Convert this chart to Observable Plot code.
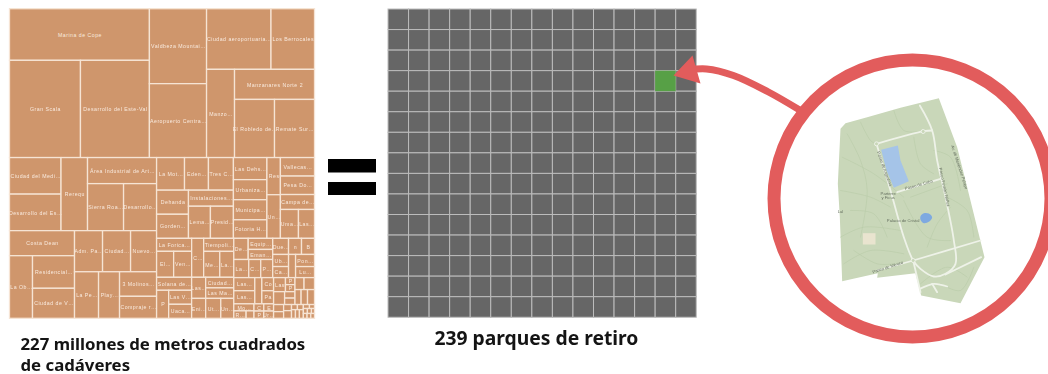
<!DOCTYPE html>
<html lang="es">
<head>
<meta charset="utf-8">
<script src="https://cdn.jsdelivr.net/npm/d3@7"></script>
<script src="https://cdn.jsdelivr.net/npm/@observablehq/plot@0.6"></script>
<style>
html,body{margin:0;padding:0;background:#fff;overflow:hidden}
svg{display:block;filter:blur(.5px)}
.tm-label text{letter-spacing:.5px}
</style>
</head>
<body>
<div id="chart"></div>
<script>
// Parcel names, as far as the picture lets them be read
const parcelNames = ["Marina de Cope","Gran Scala","Desarrollo del Este-Val","Valdbeza Mountai…","Aeropuerto Centra…","Ciudad aeroportuaria…","Los Berrocales","Manzo…","Manzanares Norte 2","El Robledo de…","Remate Sur…",
"Ciudad del Medi…","Desarrollo del Es…","Rerequ","Área Industrial de Art…","Sierra Roa…","Desarrollo…","Costa Dean","La Ob…","Residencial…","Ciudad de V…","Adm. Pa…","Ciudad…","Nuevo…","La Pe…","Play…","3 Molinos…","Compraje r…",
"La Mot…","Eden…","Tres C…","Dehanda","Gorden…","Instalaciones…","Lema…","Presid…","Las Dehs…","Urbaniza…","Municipa…","Fotoria H…","Res","Un…","Vallecas…","Pesa Do…","Campa de…","Uma…","Las…",
"La Forica…","El…","Ven…","C…","Tiempoli…","Me…","La…","Solana de…","P","Las V…","Uaca…","Las…","Eni…","Ciudad…","Las Ma…","Ut…","Un…",
"De…","Equip…","Eman…","La…","C…","P…","Due…","n","B","Ub…","Ca…","","Pon…","Lu…","Las…","Las…","","Co","Pa","Mo…","R…","","C","E","P","Ur…",
"Las","P","P","","","","","","","","","","","","","","","","","","","","","","","","",""];
// Parcel areas, thousands of square metres
const parcelAreas = [17300,16530,16060,10260,10120,9360,6320,5910,5760,5570,5570,
4510,4510,4640,4310,4060,3720,3900,3450,3280,3020,2760,2760,2560,2680,2340,2180,1950,
2180,1870,1950,1840,1840,1730,1690,1770,1770,1610,1610,1490,1200,1410,1510,1510,1220,1250,1110,
1090,1060,1120,1120,940,1000,870,1090,810,770,770,710,670,710,710,720,620,
730,650,590,650,520,520,610,500,500,460,420,390,550,500,660,660,440,370,370,340,220,140,170,170,170,170,
400,160,160,340,160,160,260,300,220,230,250,170,160,115,145,72,72,82,82,82,58,48,48,48,36,43,43,43];
// How the parcels nest: "h" groups sit side by side, "v" groups are stacked; numbers index the arrays above
const parcelNesting = ["v",
  ["h",["v",0,["h",1,2]],["v",3,4],["v",["h",5,6],["h",7,["v",8,["h",9,10]]]]],
  ["h",
    ["v",["h",["v",11,12],13,["v",14,["h",15,16]]],
         ["h",["v",17,["h",18,["v",19,20]]],["v",["h",21,22,23],["h",24,25,["v",26,27]]]]],
    ["v",["h",["v",["h",28,29,30],["h",["v",31,32],["v",33,["h",34,35]]]],
              ["h",["v",36,37,38,39],["v",40,41],["v",42,43,44,["h",45,46]]]],
         ["h",["v",["h",["v",47,["h",48,49]],50,["v",51,["h",52,53]]],
                   ["h",["v",54,["h",55,["v",56,57]]],["v",58,59],["v",60,61,["h",62,63]]]],
              ["v",["h",["v",["h",64,["v",65,66]],["h",67,68,69]],["v",["h",70,71,72],["h",["v",73,74],75,["v",76,77]]]],
                   ["h",["v",["h",["v",78,79],80,["v",81,82]],["h",["v",83,["h",84,85]],["v",["h",86,87],["h",88,89]]]],
                        ["v",["h",["v",["h",90,["v",91,92]],["h",93,["v",94,95]]],["v",["h",96,97],["h",98,99,100]]],
                             ["h",["v",101,102],["v",103,104],["v",["h",105,106],["h",107,108,109]],["v",["h",110,111],["h",112,113,114],["h",115,116,117]]]]]]]]]];

// The comparison grid of Retiro parks
const gridColumns = d3.range(15);
const gridRows = d3.range(15);
const retiroCell = {col: 13, row: 3};

const areaCaption = [
  {text: "227 millones de metros cuadrados", x: 20, y: 349},
  {text: "de cadáveres", x: 20, y: 370}
];
const parksCaption = [{text: "239 parques de retiro", x: 434, y: 344}];
const equalsBars = [{y1: 159, y2: 172.5}, {y1: 182, y2: 195}];

// Arrow and magnifier annotation
const arrowLine = [[800,110],[767,91],[733,75],[706,68.5],[688,69.5]];
const arrowHead = [[673,75],[692,55],[700,83]];
const magnifier = [{x: 912, y: 198}];

// Retiro park map, drawn in its own small units
const parkOutline = [[240,235],[255,218],[320,200],[420,172],[535,143],[590,290],[620,410],[672,620],[600,758],[482,735],[465,668],[350,682],[352,668],[245,692],[238,500],[232,400]];
const parkLake = [[362,298],[412,285],[420,330],[445,392],[400,412],[378,360]];
const parkPond = [[480,497],[490,488],[505,489],[515,500],[505,514],[490,518],[481,510]];
const parkBuilding = [[307,548],[345,548],[345,582],[307,582]];
const parkPaths = [
  [[260,250],[300,330],[320,420],[300,560]],[[245,320],[340,370],[430,440]],[[240,420],[330,440],[390,470]],[[240,560],[310,530],[420,540]],
  [[250,640],[330,600],[430,610]],[[300,215],[330,270],[345,280]],[[400,180],[430,240],[490,242]],[[520,300],[570,320],[600,420]],
  [[560,440],[620,480],[640,560]],[[430,450],[500,560],[570,570]],[[450,440],[560,400]],[[500,590],[530,520],[570,470]],[[480,700],[560,650],[620,680]],
  [[540,700],[600,720],[640,650]],[[270,480],[340,490],[380,560]],[[280,600],[350,640],[400,640]],[[460,260],[480,340],[520,370]]
];
const parkRoads = [
  [[478,165],[515,240],[530,330],[555,440],[580,570],[585,640],[555,670],[520,678],[480,655],[458,630],[430,560],[390,420],[348,280]],
  [[348,280],[490,242],[515,240]],
  [[410,425],[540,385]],
  [[350,660],[458,630],[660,570]],
  [[555,672],[662,620]],
  [[458,630],[480,725]],
  [[478,715],[520,700],[560,708]],
  [[515,700],[530,725]]
];
const parkRoundabouts = [[458,630],[348,280],[488,243]];
const parkLabels = [
  {text: "Parterre", at: [383,428], rotate: 0},
  {text: "y Ficus", at: [383,440], rotate: 0},
  {text: "Palacio de Cristal", at: [428,511], rotate: 0},
  {text: "Av. de Menéndez Pelayo", at: [597,350], rotate: 72},
  {text: "Paseo Fernán Núñez", at: [552,410], rotate: 78},
  {text: "Paseo de Cuba", at: [475,403], rotate: -16},
  {text: "Paseo de Argentina", at: [372,355], rotate: 70},
  {text: "Paseo de México", at: [382,650], rotate: -18},
  {text: "Lal", at: [240,484], rotate: 0}
];

// ---- layouts from the values above ----
const tileByGroup = (node, x0, y0, x1, y1) =>
  (node.data[0] === "h" ? d3.treemapDice : d3.treemapSlice)(node, x0, y0, x1, y1);
const treemapOrigin = [9.5, 8.7], treemapSize = [305, 309.6];
const parcels = d3.treemap().tile(tileByGroup).size(treemapSize)(
  d3.hierarchy(parcelNesting, d => Array.isArray(d) ? d.slice(1) : null)
    .sum(d => typeof d === "number" ? parcelAreas[d] : 0)
).leaves().map(n => ({
  name: parcelNames[n.data],
  x1: treemapOrigin[0] + n.x0, x2: treemapOrigin[0] + n.x1,
  y1: treemapOrigin[1] + n.y0, y2: treemapOrigin[1] + n.y1
}));

const gridOrigin = [388, 9], gridStep = 20.55;
const gridCells = d3.cross(gridColumns, gridRows, (col, row) => ({
  col, row,
  x1: gridOrigin[0] + col * gridStep, x2: gridOrigin[0] + (col + 1) * gridStep,
  y1: gridOrigin[1] + row * gridStep, y2: gridOrigin[1] + (row + 1) * gridStep
}));
const isRetiro = d => d.col === retiroCell.col && d.row === retiroCell.row;

const mapX = d => 760 + d[0] / 3, mapY = d => 50 + d[1] / 3;
const px = d => d[0], py = d => d[1];

document.getElementById("chart").append(Plot.plot({
  width: 1048, height: 374,
  margin: 0,
  style: {background: "transparent"},
  x: {domain: [0, 1048], range: [0, 1048], axis: null},
  y: {domain: [0, 374], range: [0, 374], axis: null},
  marks: [
    // treemap
    Plot.rect(parcels, {x1: "x1", x2: "x2", y1: "y1", y2: "y2", fill: "#cf966c", stroke: "#f6e4d4", strokeWidth: 1.3}),
    Plot.text(parcels, {x: d => (d.x1 + d.x2) / 2, y: d => (d.y1 + d.y2) / 2, text: "name", fill: "#f9eade",
      fontSize: 5.2, fontFamily: "Liberation Sans", className: "tm-label"}),
    // equals sign
    Plot.rect(equalsBars, {x1: () => 328, x2: () => 376, y1: "y1", y2: "y2", fill: "#000"}),
    // grid of parks
    Plot.rect(gridCells, {x1: "x1", x2: "x2", y1: "y1", y2: "y2", fill: "#666666", stroke: "#bcbcbc", strokeWidth: 1}),
    Plot.rect(gridCells.filter(isRetiro), {x1: "x1", x2: "x2", y1: "y1", y2: "y2", fill: "#57a046"}),
    // arrow
    Plot.line(arrowLine, {x: px, y: py, stroke: "#e25c5c", strokeWidth: 7, curve: "catmull-rom"}),
    Plot.line(arrowHead, {x: px, y: py, fill: "#e25c5c", stroke: "none", curve: "linear-closed"}),
    // magnifier
    Plot.dot(magnifier, {x: "x", y: "y", r: 138.5, fill: "#fff", stroke: "#e25c5c", strokeWidth: 13}),
    // park map
    Plot.line(parkOutline, {x: mapX, y: mapY, fill: "#c9d7b9", stroke: "none", curve: "linear-closed"}),
    ...parkPaths.map(p => Plot.line(p, {x: mapX, y: mapY, stroke: "#b9cba8", strokeWidth: .6, curve: "catmull-rom"})),
    Plot.line(parkBuilding, {x: mapX, y: mapY, fill: "#e9e4cf", stroke: "none", curve: "linear-closed"}),
    Plot.line(parkLake, {x: mapX, y: mapY, fill: "#a5c4e8", stroke: "none", curve: "linear-closed"}),
    Plot.line(parkPond, {x: mapX, y: mapY, fill: "#7ea9e0", stroke: "none", curve: "catmull-rom-closed"}),
    ...parkRoads.map(p => Plot.line(p, {x: mapX, y: mapY, stroke: "#eef2e8", strokeWidth: 1.8, curve: "catmull-rom"})),
    Plot.dot(parkRoundabouts, {x: mapX, y: mapY, r: 2, fill: "#c9d7b9", stroke: "#eef2e8", strokeWidth: 1}),
    Plot.text(parkLabels, {x: d => mapX(d.at), y: d => mapY(d.at), text: "text", rotate: "rotate", fontSize: 4.2, fontFamily: "Liberation Sans", fill: "#667060"}),
    // captions
    Plot.text(areaCaption, {x: "x", y: "y", text: "text", textAnchor: "start", lineAnchor: "bottom",
      fontFamily: "Noto Sans", fontWeight: 700, fontSize: 16.8, fill: "#141414"}),
    Plot.text(parksCaption, {x: "x", y: "y", text: "text", textAnchor: "start", lineAnchor: "bottom",
      fontFamily: "Noto Sans", fontWeight: 700, fontSize: 19.3, fill: "#141414"})
  ]
}));
</script>
</body>
</html>
